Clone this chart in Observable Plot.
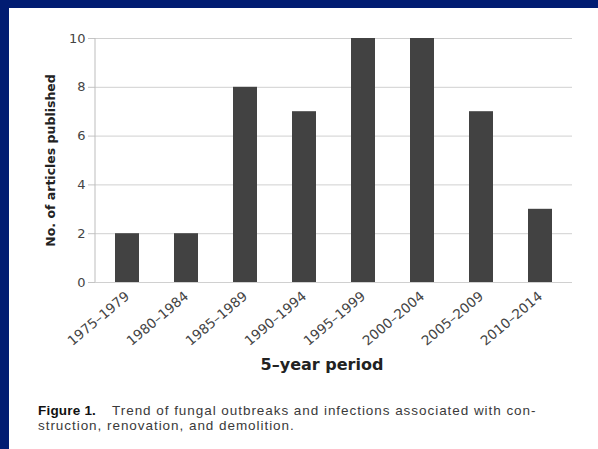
<!DOCTYPE html>
<html>
<head>
<meta charset="utf-8">
<script src="https://cdn.jsdelivr.net/npm/d3@7"></script>
<script src="https://cdn.jsdelivr.net/npm/@observablehq/plot@0.6"></script>
<style>
  html, body { margin: 0; padding: 0; width: 598px; height: 449px; overflow: hidden; background: #011c72; }
  #panel { position: absolute; left: 9px; top: 8px; right: 0; bottom: 0; background: #fff; }
  #chart { position: absolute; left: 0; top: 0; }
  #caption { position: absolute; left: 29px; top: 395px; font-family: "Liberation Sans", Arial, sans-serif; font-size: 13.5px; line-height: 15px; color: #3a3a3a; letter-spacing: 0.95px; white-space: nowrap; }
  #caption b { color: #111; letter-spacing: 0.2px; margin-right: 16px; }
</style>
</head>
<body>
<div id="panel">
  <div id="chart"></div>
  <div id="caption"><b>Figure 1.</b>Trend of fungal outbreaks and infections associated with con-<br>struction, renovation, and demolition.</div>
</div>
<script>
const periods = ["1975–1979", "1980–1984", "1985–1989", "1990–1994", "1995–1999", "2000–2004", "2005–2009", "2010–2014"];
const counts = [2, 2, 8, 7, 10, 10, 7, 3];
const yTicks = [0, 2, 4, 6, 8, 10];
const xLabel = "5–year period";
const yLabel = "No. of articles published";

const data = periods.map((p, i) => ({period: p, count: counts[i]}));

const chart = Plot.plot({
  width: 589,
  height: 380,
  marginLeft: 86,
  marginRight: 26,
  marginTop: 30,
  marginBottom: 106,
  style: {fontFamily: "DejaVu Sans, sans-serif", background: "transparent", color: "#444"},
  x: {domain: periods, paddingInner: 0.6, paddingOuter: 0.3, label: null},
  y: {domain: [0, 10], ticks: yTicks, label: null},
  marks: [
    Plot.gridY(yTicks, {stroke: "#d0d0d0", strokeOpacity: 1}),
    Plot.axisY(yTicks, {tickSize: 7, tickPadding: 3, fontSize: 13, stroke: "#c4c4c4", fill: "#444", label: null}),
    Plot.axisX({tickSize: 0, tickRotate: -40, tickPadding: 12, fontSize: 13.5, fill: "#444", label: null}),
    (index, scales, values, dims) => d3.create("svg:line")
      .attr("x1", dims.marginLeft).attr("x2", dims.marginLeft)
      .attr("y1", scales.y(yTicks[yTicks.length - 1])).attr("y2", scales.y(yTicks[0]))
      .attr("stroke", "#bdbdbd").node(),
    Plot.barY(data, {x: "period", y: "count", fill: "#424242"}),
    Plot.text([xLabel], {text: d => d, frameAnchor: "bottom", dy: 87, dx: -12, fontWeight: "bold", fontSize: 16, fill: "#222", fontFamily: "DejaVu Sans"}),
    Plot.text([yLabel], {text: d => d, frameAnchor: "left", textAnchor: "middle", rotate: -90, dx: -45, dy: 0, fontWeight: "bold", fontSize: 12.5, fill: "#222", fontFamily: "DejaVu Sans"})
  ]
});
document.getElementById("chart").appendChild(chart);
</script>
</body>
</html>
